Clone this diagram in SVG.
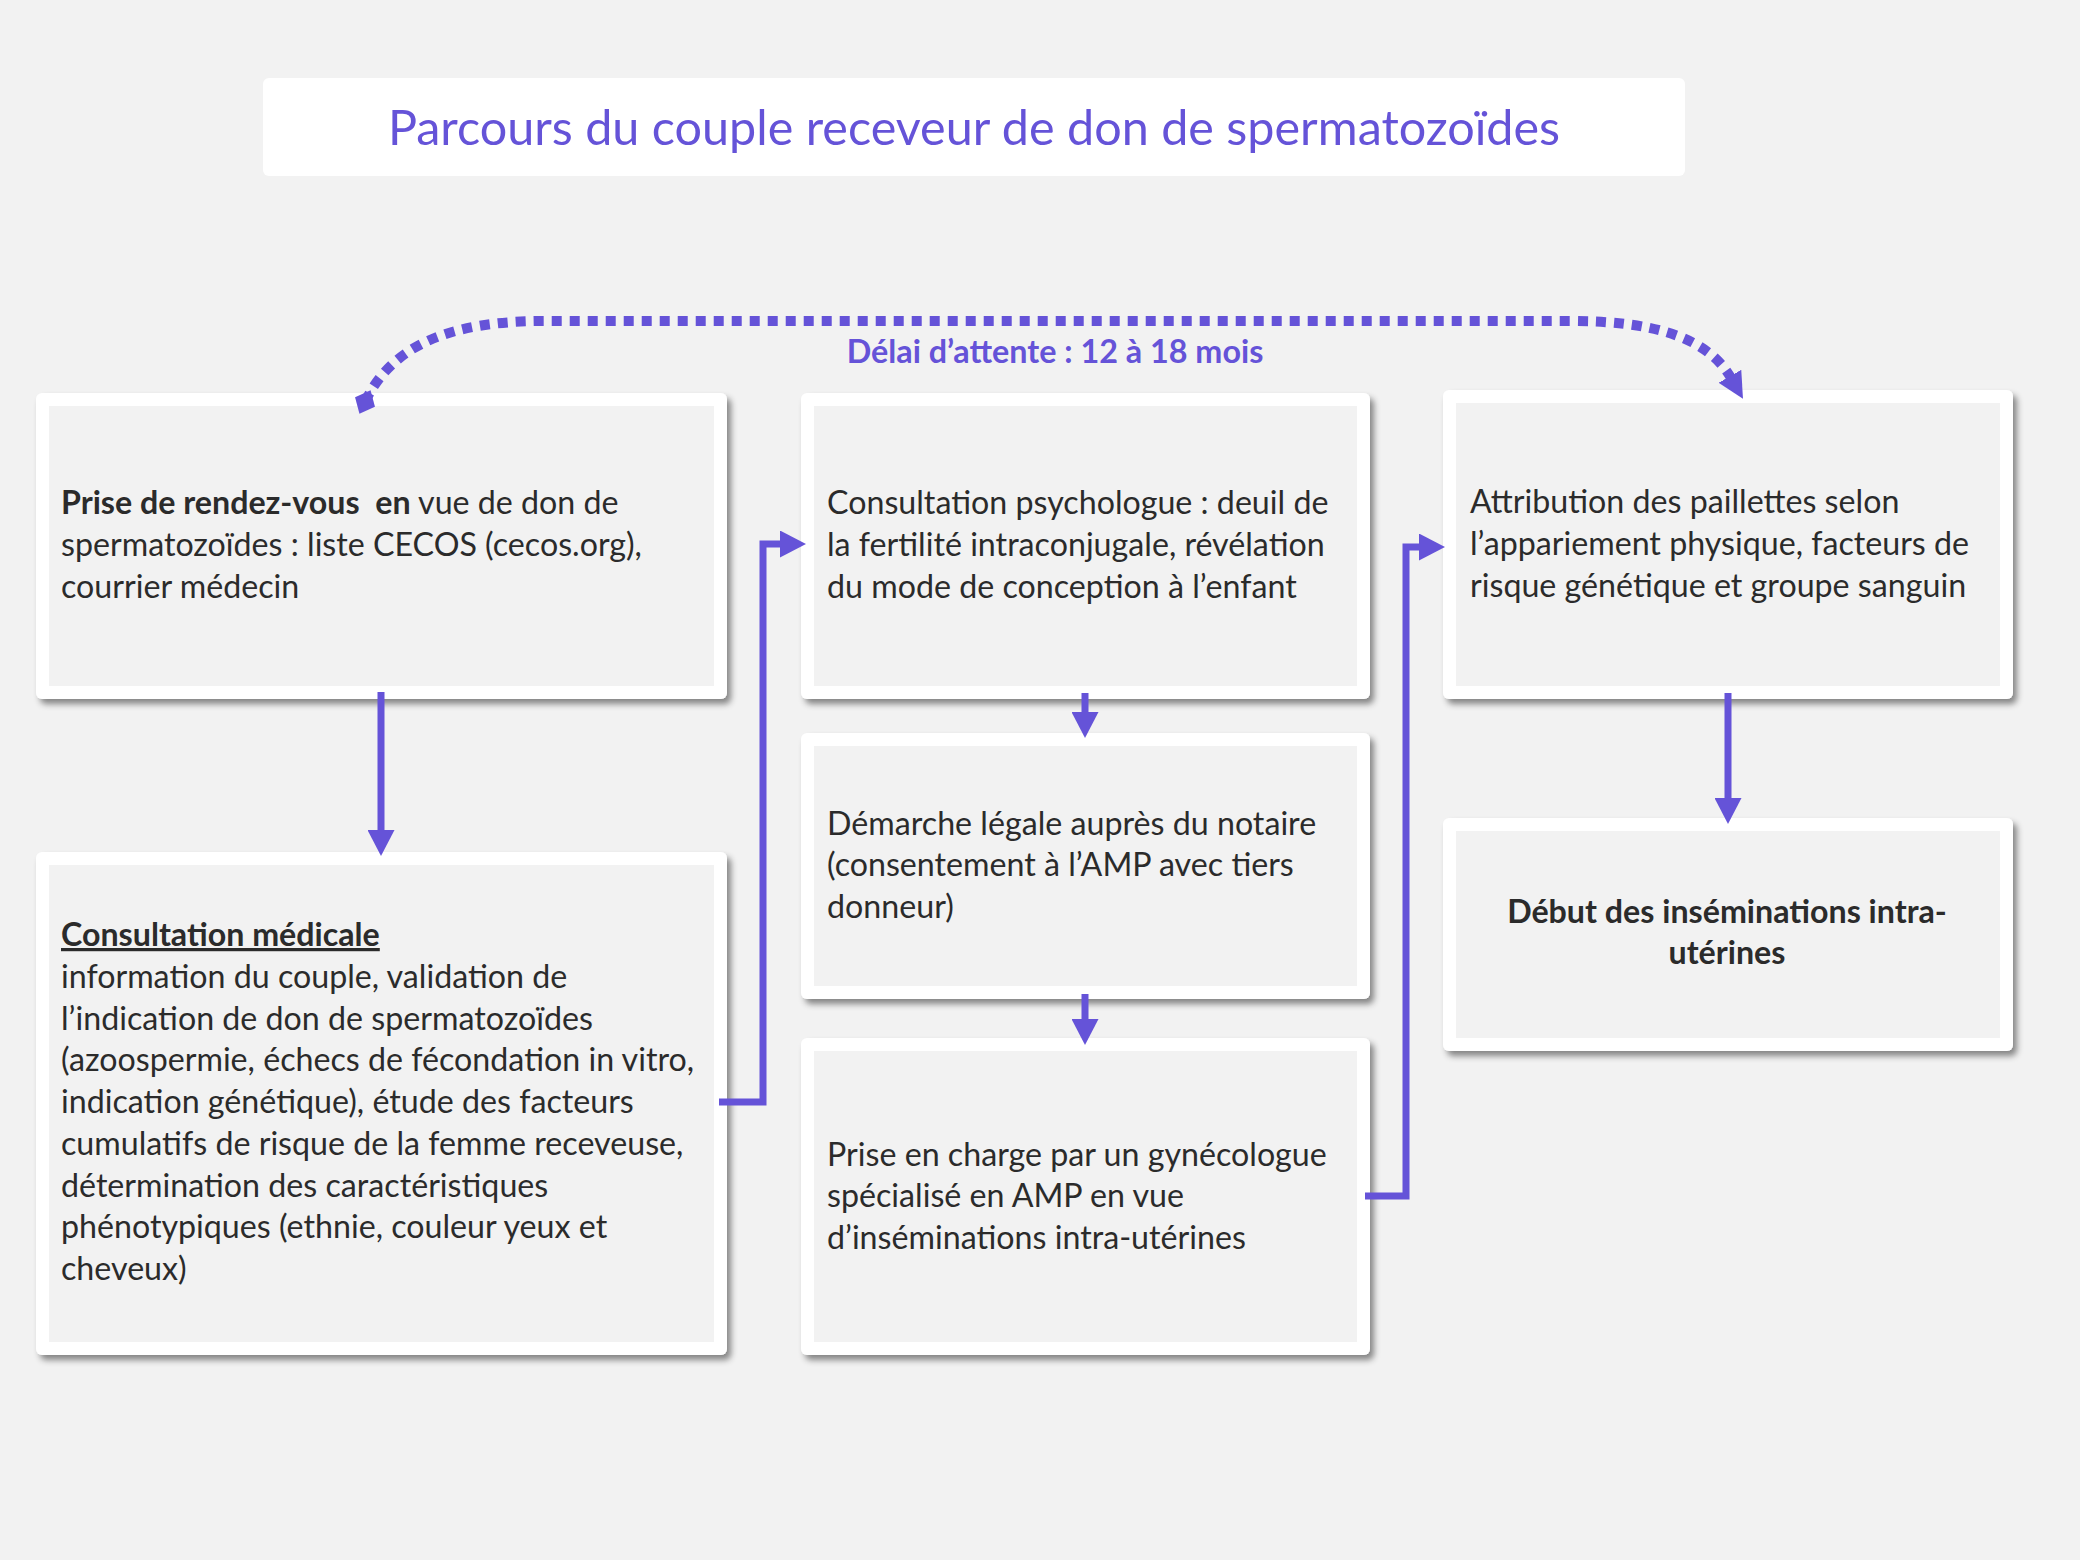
<svg xmlns="http://www.w3.org/2000/svg" width="2080" height="1560" viewBox="0 0 2080 1560">
<defs>
<style>
.bg{fill:#F2F2F2}
.frame{fill:#FFFFFF;filter:url(#sh)}
.inner{fill:#F2F2F2}
.t{font-family:Lato,"Liberation Sans",sans-serif;font-size:32.2px;fill:#2B2B2B;white-space:pre}
.b{font-weight:bold}
.title{font-family:Lato,"Liberation Sans",sans-serif;font-size:48.5px;fill:#6553D8;text-anchor:middle}
.lbl{font-family:Lato,"Liberation Sans",sans-serif;font-size:32.3px;font-weight:bold;fill:#6553D8;text-anchor:middle}
.conn{fill:none;stroke:#6553D8;stroke-width:7;stroke-linejoin:miter}
.dot{fill:none;stroke:#6553D8;stroke-width:10;stroke-dasharray:10 8}
</style>
<filter id="sh" x="-5%" y="-5%" width="110%" height="115%">
<feDropShadow dx="4" dy="5" stdDeviation="3" flood-color="#000" flood-opacity="0.45"/>
</filter>
<marker id="ah" markerUnits="userSpaceOnUse" viewBox="0 0 26 27" refX="6" refY="13.5" markerWidth="26" markerHeight="27" orient="auto">
<path d="M0,0 L26,13.5 L0,27 z" fill="#6553D8"/>
</marker>
<marker id="ah2" markerUnits="userSpaceOnUse" viewBox="0 0 26 26" refX="2" refY="13" markerWidth="26" markerHeight="26" orient="auto">
<path d="M0,0 L26,13 L0,26 z" fill="#6553D8"/>
</marker>
<marker id="dm" markerUnits="userSpaceOnUse" viewBox="-13 -13 26 26" refX="0" refY="0" markerWidth="26" markerHeight="26" orient="auto">
<path d="M-13,0 L0,-11 L13,0 L0,11 z" fill="#6553D8"/>
</marker>
</defs>
<rect class="bg" x="0" y="0" width="2080" height="1560"/>

<g id="title">
<rect x="263" y="78" width="1422" height="98" rx="6" fill="#FFFFFF"/>
<text class="title" x="974" y="145">Parcours du couple receveur de don de spermatozoïdes</text>
</g>

<g id="node-rdv">
<rect class="frame" x="36" y="393" width="691" height="306" rx="6"/>
<rect class="inner" x="49" y="406" width="665" height="280"/>
<text class="t" x="61" y="514"><tspan class="b">Prise de rendez-vous  en</tspan> vue de don de</text>
<text class="t" x="61" y="556">spermatozoïdes : liste CECOS (cecos.org),</text>
<text class="t" x="61" y="598">courrier médecin</text>
</g>

<g id="node-consultation-medicale">
<rect class="frame" x="36" y="852" width="691" height="503" rx="6"/>
<rect class="inner" x="49" y="865" width="665" height="477"/>
<text class="t b" x="61" y="946" text-decoration="underline">Consultation médicale</text>
<text class="t" x="61" y="988">information du couple, validation de</text>
<text class="t" x="61" y="1030">l’indication de don de spermatozoïdes</text>
<text class="t" x="61" y="1071">(azoospermie, échecs de fécondation in vitro,</text>
<text class="t" x="61" y="1113">indication génétique), étude des facteurs</text>
<text class="t" x="61" y="1155">cumulatifs de risque de la femme receveuse,</text>
<text class="t" x="61" y="1197">détermination des caractéristiques</text>
<text class="t" x="61" y="1238">phénotypiques (ethnie, couleur yeux et</text>
<text class="t" x="61" y="1280">cheveux)</text>
</g>

<g id="node-psychologue">
<rect class="frame" x="801" y="393" width="569" height="306" rx="6"/>
<rect class="inner" x="814" y="406" width="543" height="280"/>
<text class="t" x="827" y="514">Consultation psychologue : deuil de</text>
<text class="t" x="827" y="556">la fertilité intraconjugale, révélation</text>
<text class="t" x="827" y="598">du mode de conception à l’enfant</text>
</g>

<g id="node-notaire">
<rect class="frame" x="801" y="733" width="569" height="266" rx="6"/>
<rect class="inner" x="814" y="746" width="543" height="240"/>
<text class="t" x="827" y="835">Démarche légale auprès du notaire</text>
<text class="t" x="827" y="876">(consentement à l’AMP avec tiers</text>
<text class="t" x="827" y="918">donneur)</text>
</g>

<g id="node-gynecologue">
<rect class="frame" x="801" y="1038" width="569" height="317" rx="6"/>
<rect class="inner" x="814" y="1051" width="543" height="291"/>
<text class="t" x="827" y="1166">Prise en charge par un gynécologue</text>
<text class="t" x="827" y="1207">spécialisé en AMP en vue</text>
<text class="t" x="827" y="1249">d’inséminations intra-utérines</text>
</g>

<g id="node-attribution">
<rect class="frame" x="1443" y="390" width="570" height="309" rx="6"/>
<rect class="inner" x="1456" y="403" width="544" height="283"/>
<text class="t" x="1470" y="513">Attribution des paillettes selon</text>
<text class="t" x="1470" y="555">l’appariement physique, facteurs de</text>
<text class="t" x="1470" y="597">risque génétique et groupe sanguin</text>
</g>

<g id="node-debut">
<rect class="frame" x="1443" y="818" width="570" height="233" rx="6"/>
<rect class="inner" x="1456" y="831" width="544" height="207"/>
<text class="t b" x="1727" y="923" text-anchor="middle">Début des inséminations intra-</text>
<text class="t b" x="1727" y="964" text-anchor="middle">utérines</text>
</g>

<g id="connectors">
<path class="dot" d="M365,402 C392,345 450,321 545,321 L1570,321 C1655,321 1708,338 1731,378" marker-start="url(#dm)" marker-end="url(#ah2)"/>
<text class="lbl" x="1055" y="363">Délai d’attente : 12 à 18 mois</text>
<path class="conn" d="M381,692 V836" marker-end="url(#ah)"/>
<path class="conn" d="M719,1102 H763 V544 H786" marker-end="url(#ah)"/>
<path class="conn" d="M1085,693 V718" marker-end="url(#ah)"/>
<path class="conn" d="M1085,994 V1025" marker-end="url(#ah)"/>
<path class="conn" d="M1365,1196 H1406 V547 H1425" marker-end="url(#ah)"/>
<path class="conn" d="M1728,693 V804" marker-end="url(#ah)"/>
</g>
</svg>
